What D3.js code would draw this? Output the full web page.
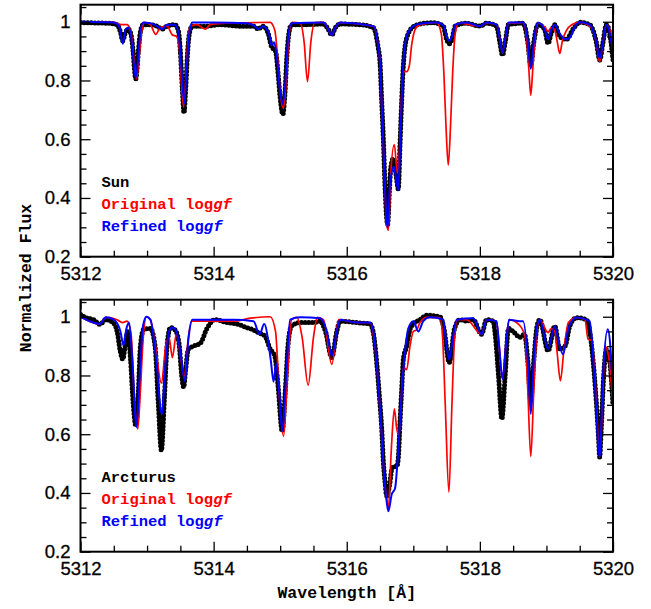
<!doctype html>
<html>
  <head>
    <style>
      body { margin: 0; background: white; }
      .tick text { font-family: 'Liberation Sans', Arial, sans-serif; font-size: 18.5px; fill: black; }
      .lab { font-family: 'Liberation Mono', monospace; font-weight: bold; }
    </style>
    <script src="https://d3js.org/d3.v7.min.js"></script>
  </head>
  <body>
    <svg id="chart" width="651" height="609"></svg>
    <script>
      // wavelength ticks and flux ticks
      var xMajor = [5312, 5314, 5316, 5318, 5320];
      var xMinor = [5312.5, 5313, 5313.5, 5314.5, 5315, 5315.5, 5316.5, 5317, 5317.5, 5318.5, 5319, 5319.5];
      var yMajor = [0.2, 0.4, 0.6, 0.8, 1];
      var yMinor = [0.25, 0.3, 0.35, 0.45, 0.5, 0.55, 0.65, 0.7, 0.75, 0.85, 0.9, 0.95, 1.05];

      // Sun: observed spectrum [wavelength, flux]
      var sunObs = [
        [5312.00,0.997],[5312.20,0.996],[5312.40,0.995],[5312.55,0.99],[5312.60,0.965],[5312.635,0.935],
        [5312.67,0.96],[5312.72,0.975],[5312.76,0.955],[5312.79,0.9],[5312.81,0.84],[5312.83,0.805],
        [5312.85,0.84],[5312.87,0.9],[5312.90,0.965],[5312.94,0.99],[5313.05,0.99],[5313.15,0.985],
        [5313.23,0.975],[5313.30,0.985],[5313.42,0.99],[5313.47,0.97],[5313.50,0.9],[5313.53,0.77],
        [5313.555,0.69],[5313.58,0.77],[5313.61,0.9],[5313.64,0.965],[5313.68,0.985],[5313.90,0.985],
        [5314.10,0.99],[5314.40,0.985],[5314.60,0.985],[5314.67,0.975],[5314.74,0.985],[5314.82,0.96],
        [5314.87,0.915],[5314.93,0.9],[5314.97,0.82],[5315.00,0.74],[5315.04,0.685],[5315.07,0.75],
        [5315.10,0.88],[5315.13,0.96],[5315.17,0.99],[5315.40,0.99],[5315.65,0.992],[5315.72,0.975],
        [5315.775,0.955],[5315.83,0.98],[5315.90,0.992],[5316.20,0.99],[5316.40,0.98],[5316.47,0.915],
        [5316.50,0.86],[5316.525,0.73],[5316.55,0.6],[5316.575,0.44],[5316.60,0.33],[5316.615,0.31],
        [5316.64,0.42],[5316.66,0.5],[5316.70,0.535],[5316.74,0.48],[5316.775,0.43],[5316.80,0.58],
        [5316.825,0.73],[5316.85,0.85],[5316.875,0.915],[5316.925,0.96],[5317.00,0.983],[5317.10,0.992],
        [5317.30,0.997],[5317.45,0.985],[5317.50,0.94],[5317.54,0.925],[5317.58,0.94],[5317.63,0.985],
        [5317.80,0.995],[5318.00,0.985],[5318.10,0.995],[5318.25,0.985],[5318.30,0.93],[5318.34,0.886],
        [5318.38,0.93],[5318.43,0.99],[5318.65,0.995],[5318.72,0.93],[5318.765,0.85],[5318.81,0.93],
        [5318.87,0.99],[5318.97,0.975],[5319.025,0.926],[5319.07,0.96],[5319.125,0.99],[5319.20,0.95],
        [5319.30,0.94],[5319.40,0.975],[5319.50,0.998],[5319.65,0.99],[5319.75,0.93],[5319.80,0.87],
        [5319.85,0.93],[5319.90,0.99],[5319.95,0.96],[5320.00,0.87]
      ];
      // Sun: synthesis with original log gf
      var sunOrig = [
        [5312.00,1.0],[5312.50,0.998],[5312.62,0.99],[5312.70,0.99],[5312.76,0.96],[5312.80,0.88],
        [5312.84,0.805],[5312.88,0.88],[5312.92,0.97],[5312.96,0.998],[5313.05,0.99],[5313.13,0.957],
        [5313.20,0.98],[5313.30,0.985],[5313.38,0.955],[5313.44,0.95],[5313.49,0.9],[5313.52,0.78],
        [5313.55,0.71],[5313.58,0.8],[5313.61,0.92],[5313.65,0.985],[5313.75,0.99],[5313.875,0.975],
        [5313.95,0.99],[5314.20,0.995],[5314.60,0.997],[5314.85,0.998],[5314.92,0.97],[5314.97,0.85],
        [5315.00,0.76],[5315.05,0.705],[5315.09,0.8],[5315.13,0.95],[5315.18,0.998],[5315.30,0.995],
        [5315.36,0.93],[5315.41,0.796],[5315.46,0.93],[5315.52,0.997],[5315.65,0.998],[5315.72,0.975],
        [5315.775,0.955],[5315.83,0.98],[5315.90,0.997],[5316.40,0.985],[5316.47,0.92],[5316.50,0.86],
        [5316.525,0.72],[5316.55,0.58],[5316.575,0.42],[5316.60,0.31],[5316.625,0.29],[5316.66,0.48],
        [5316.715,0.582],[5316.76,0.484],[5316.80,0.6],[5316.825,0.75],[5316.85,0.83],[5316.90,0.83],
        [5316.94,0.85],[5316.975,0.92],[5317.03,0.975],[5317.10,0.99],[5317.35,0.997],[5317.42,0.96],
        [5317.46,0.82],[5317.49,0.65],[5317.525,0.512],[5317.56,0.65],[5317.59,0.82],[5317.63,0.96],
        [5317.68,0.995],[5318.00,0.985],[5318.10,0.995],[5318.25,0.99],[5318.30,0.94],[5318.34,0.894],
        [5318.38,0.94],[5318.43,0.995],[5318.65,0.997],[5318.70,0.95],[5318.735,0.84],[5318.765,0.75],
        [5318.795,0.84],[5318.83,0.95],[5318.88,0.995],[5318.98,0.98],[5319.025,0.966],[5319.07,0.98],
        [5319.12,0.975],[5319.16,0.935],[5319.20,0.892],[5319.24,0.935],[5319.30,0.97],[5319.38,0.99],
        [5319.50,0.998],[5319.65,0.985],[5319.75,0.93],[5319.80,0.864],[5319.85,0.93],[5319.90,0.99],
        [5320.00,0.94]
      ];
      // Sun: synthesis with refined log gf
      var sunRef = [
        [5312.00,1.0],[5312.50,0.997],[5312.58,0.985],[5312.635,0.925],[5312.68,0.975],[5312.72,0.98],
        [5312.76,0.95],[5312.80,0.86],[5312.83,0.81],[5312.86,0.86],[5312.90,0.965],[5312.94,0.997],
        [5313.05,0.995],[5313.15,0.985],[5313.23,0.975],[5313.30,0.99],[5313.42,0.99],[5313.47,0.965],
        [5313.51,0.86],[5313.56,0.72],[5313.60,0.86],[5313.64,0.97],[5313.68,0.997],[5314.00,0.997],
        [5314.50,0.995],[5314.62,0.985],[5314.67,0.975],[5314.74,0.985],[5314.83,0.96],[5314.87,0.92],
        [5314.91,0.93],[5314.95,0.88],[5315.00,0.76],[5315.04,0.72],[5315.08,0.8],[5315.12,0.95],
        [5315.17,0.995],[5315.65,0.997],[5315.72,0.975],[5315.775,0.955],[5315.83,0.98],[5315.90,0.997],
        [5316.40,0.985],[5316.47,0.92],[5316.50,0.86],[5316.525,0.72],[5316.55,0.58],[5316.575,0.43],
        [5316.60,0.32],[5316.615,0.30],[5316.65,0.45],[5316.71,0.506],[5316.745,0.46],[5316.775,0.427],
        [5316.80,0.57],[5316.825,0.73],[5316.85,0.86],[5316.875,0.92],[5316.925,0.965],[5317.00,0.985],
        [5317.10,0.993],[5317.35,0.997],[5317.46,0.985],[5317.50,0.95],[5317.54,0.935],[5317.58,0.95],
        [5317.63,0.99],[5317.80,0.997],[5318.00,0.985],[5318.10,0.997],[5318.25,0.99],[5318.30,0.94],
        [5318.34,0.894],[5318.38,0.94],[5318.43,0.997],[5318.65,0.997],[5318.71,0.95],[5318.765,0.84],
        [5318.82,0.95],[5318.87,0.997],[5318.97,0.975],[5319.025,0.94],[5319.07,0.97],[5319.125,0.99],
        [5319.20,0.96],[5319.28,0.94],[5319.35,0.945],[5319.42,0.98],[5319.50,0.998],[5319.65,0.99],
        [5319.75,0.93],[5319.80,0.875],[5319.85,0.93],[5319.90,0.99],[5320.00,0.9]
      ];

      // Arcturus: observed spectrum
      var arcObs = [
        [5312.00,1.008],[5312.10,0.995],[5312.20,0.99],[5312.29,0.974],[5312.38,0.99],[5312.49,0.98],
        [5312.55,0.95],[5312.60,0.88],[5312.635,0.855],[5312.67,0.9],[5312.71,0.95],[5312.75,0.86],
        [5312.79,0.71],[5312.83,0.63],[5312.87,0.75],[5312.90,0.9],[5312.95,0.957],[5313.05,0.96],
        [5313.12,0.9],[5313.17,0.7],[5313.215,0.545],[5313.26,0.72],[5313.30,0.9],[5313.35,0.963],
        [5313.42,0.955],[5313.48,0.91],[5313.52,0.8],[5313.55,0.76],[5313.58,0.82],[5313.62,0.89],
        [5313.70,0.9],[5313.80,0.91],[5313.90,0.96],[5314.02,0.99],[5314.20,0.98],[5314.35,0.975],
        [5314.50,0.963],[5314.60,0.955],[5314.67,0.946],[5314.77,0.935],[5314.85,0.89],[5314.92,0.865],
        [5314.97,0.76],[5315.03,0.61],[5315.08,0.76],[5315.12,0.91],[5315.17,0.968],[5315.30,0.98],
        [5315.50,0.98],[5315.60,0.985],[5315.68,0.95],[5315.775,0.861],[5315.85,0.95],[5315.90,0.985],
        [5316.15,0.98],[5316.35,0.975],[5316.40,0.945],[5316.45,0.844],[5316.49,0.73],[5316.525,0.62],
        [5316.55,0.506],[5316.575,0.437],[5316.60,0.39],[5316.65,0.437],[5316.675,0.48],[5316.70,0.49],
        [5316.75,0.49],[5316.775,0.52],[5316.80,0.64],[5316.825,0.75],[5316.85,0.855],[5316.90,0.9],
        [5316.95,0.957],[5317.00,0.975],[5317.10,0.99],[5317.20,1.005],[5317.40,1.0],[5317.46,0.96],
        [5317.54,0.844],[5317.62,0.96],[5317.70,0.99],[5317.80,0.985],[5317.90,0.99],[5318.025,0.94],
        [5318.10,0.99],[5318.20,0.985],[5318.225,0.95],[5318.28,0.8],[5318.33,0.652],[5318.38,0.8],
        [5318.43,0.96],[5318.50,0.95],[5318.60,0.93],[5318.67,0.94],[5318.72,0.85],[5318.765,0.71],
        [5318.81,0.85],[5318.86,0.97],[5318.90,0.99],[5319.025,0.884],[5319.125,0.968],[5319.20,0.89],
        [5319.28,0.9],[5319.35,0.968],[5319.45,0.997],[5319.60,0.99],[5319.65,0.95],[5319.72,0.8],
        [5319.78,0.6],[5319.80,0.522],[5319.82,0.6],[5319.86,0.8],[5319.90,0.889],[5319.95,0.85],
        [5320.00,0.697]
      ];
      // Arcturus: synthesis with original log gf
      var arcOrig = [
        [5312.00,1.0],[5312.29,0.975],[5312.38,0.998],[5312.55,0.99],[5312.63,0.98],[5312.70,0.985],
        [5312.76,0.94],[5312.81,0.72],[5312.86,0.618],[5312.90,0.75],[5312.94,0.92],[5312.99,1.0],
        [5313.05,0.99],[5313.12,0.91],[5313.215,0.774],[5313.28,0.9],[5313.33,0.93],[5313.38,0.861],
        [5313.44,0.94],[5313.50,0.87],[5313.56,0.793],[5313.62,0.93],[5313.67,0.985],[5314.00,0.985],
        [5314.30,0.985],[5314.55,0.995],[5314.85,1.0],[5314.93,0.95],[5314.99,0.72],[5315.05,0.593],
        [5315.11,0.8],[5315.17,0.99],[5315.25,0.998],[5315.33,0.93],[5315.42,0.767],[5315.50,0.93],
        [5315.56,0.998],[5315.65,0.99],[5315.775,0.838],[5315.88,0.99],[5316.15,0.98],[5316.35,0.98],
        [5316.40,0.94],[5316.45,0.84],[5316.49,0.72],[5316.525,0.6],[5316.55,0.5],[5316.60,0.38],
        [5316.625,0.347],[5316.67,0.55],[5316.715,0.686],[5316.75,0.62],[5316.785,0.595],[5316.82,0.73],
        [5316.85,0.827],[5316.90,0.82],[5316.95,0.9],[5317.00,0.95],[5317.05,0.955],[5317.10,0.98],
        [5317.20,0.998],[5317.40,0.997],[5317.44,0.93],[5317.48,0.7],[5317.535,0.403],[5317.58,0.7],
        [5317.62,0.93],[5317.66,0.99],[5317.80,0.99],[5318.025,0.94],[5318.10,0.99],[5318.25,0.985],
        [5318.29,0.9],[5318.34,0.788],[5318.39,0.9],[5318.44,0.99],[5318.60,0.97],[5318.68,0.93],
        [5318.72,0.75],[5318.765,0.524],[5318.81,0.75],[5318.86,0.96],[5318.90,0.99],[5319.025,0.946],
        [5319.07,0.96],[5319.125,0.95],[5319.16,0.88],[5319.21,0.782],[5319.26,0.88],[5319.33,0.98],
        [5319.45,0.997],[5319.58,0.99],[5319.625,0.923],[5319.68,0.92],[5319.74,0.75],[5319.80,0.522],
        [5319.84,0.7],[5319.88,0.9],[5319.93,0.87],[5320.00,0.7]
      ];
      // Arcturus: synthesis with refined log gf
      var arcRef = [
        [5312.00,1.0],[5312.29,0.975],[5312.38,0.998],[5312.50,0.99],[5312.60,0.95],[5312.645,0.903],
        [5312.69,0.96],[5312.73,0.98],[5312.78,0.85],[5312.84,0.624],[5312.89,0.8],[5312.94,0.97],
        [5312.99,1.0],[5313.05,0.99],[5313.14,0.85],[5313.22,0.669],[5313.28,0.85],[5313.33,0.95],
        [5313.38,0.963],[5313.44,0.95],[5313.50,0.88],[5313.57,0.78],[5313.62,0.92],[5313.68,0.99],
        [5314.00,0.99],[5314.30,0.99],[5314.60,0.985],[5314.69,0.94],[5314.76,0.975],[5314.86,0.85],
        [5314.90,0.779],[5314.94,0.84],[5314.98,0.76],[5315.03,0.612],[5315.09,0.8],[5315.15,0.99],
        [5315.30,0.998],[5315.60,0.995],[5315.70,0.95],[5315.775,0.867],[5315.85,0.95],[5315.90,0.99],
        [5316.15,0.98],[5316.35,0.98],[5316.40,0.95],[5316.45,0.84],[5316.49,0.72],[5316.525,0.6],
        [5316.55,0.5],[5316.60,0.37],[5316.625,0.338],[5316.675,0.395],[5316.725,0.415],[5316.775,0.55],
        [5316.825,0.74],[5316.875,0.88],[5316.925,0.96],[5317.00,0.985],[5317.075,0.95],[5317.15,0.985],
        [5317.25,0.998],[5317.45,0.99],[5317.49,0.92],[5317.54,0.855],[5317.59,0.92],[5317.65,0.99],
        [5317.90,0.995],[5318.025,0.94],[5318.10,0.99],[5318.25,0.985],[5318.29,0.9],[5318.34,0.788],
        [5318.39,0.9],[5318.44,0.99],[5318.60,0.985],[5318.65,0.985],[5318.72,0.85],[5318.765,0.669],
        [5318.81,0.85],[5318.86,0.97],[5318.90,0.99],[5319.025,0.89],[5319.125,0.968],[5319.18,0.92],
        [5319.25,0.872],[5319.33,0.96],[5319.45,0.997],[5319.65,0.985],[5319.72,0.8],[5319.80,0.522],
        [5319.85,0.8],[5319.92,0.957],[5319.96,0.9],[5320.00,0.73]
      ];

      var panels = [
        {name: "Sun", obs: sunObs, orig: sunOrig, ref: sunRef, top: 4.7},
        {name: "Arcturus", obs: arcObs, orig: arcOrig, ref: arcRef, top: 299.7}
      ];

      var svg = d3.select("#chart");
      var left = 80.5, right = 613, ph = 252;

      var x = d3.scaleLinear().domain([5312, 5320]).range([left, right]);

      panels.forEach(function(p, i) {
        var y = d3.scaleLinear().domain([0.2, 1.058]).range([p.top + ph, p.top]);
        var g = svg.append("g");

        g.append("clipPath").attr("id", "clip" + i)
          .append("rect").attr("x", left).attr("y", p.top).attr("width", right - left).attr("height", ph);

        var line = d3.line()
          .x(function(d){ return x(d[0]); })
          .y(function(d){ return y(d[1]); })
          .curve(d3.curveMonotoneX);

        var plot = g.append("g").attr("clip-path", "url(#clip" + i + ")");
        // observed spectrum: dense black dots
        plot.append("path").attr("d", line(p.obs))
          .attr("fill", "none").attr("stroke", "black")
          .attr("stroke-width", 5).attr("stroke-linecap", "round")
          .attr("stroke-dasharray", "0 3.6");
        plot.append("path").attr("d", line(p.orig))
          .attr("fill", "none").attr("stroke", "#ff0000").attr("stroke-width", 1.7);
        plot.append("path").attr("d", line(p.ref))
          .attr("fill", "none").attr("stroke", "#0000ff").attr("stroke-width", 2);

        // axes, ticks pointing inward
        var bottom = p.top + ph;
        g.append("g").attr("transform", "translate(0," + bottom + ")")
          .call(d3.axisBottom(x).tickValues(xMajor).tickSize(-10).tickPadding(10).tickFormat(d3.format("d")));
        g.append("g").attr("transform", "translate(0," + bottom + ")")
          .call(d3.axisBottom(x).tickValues(xMinor).tickSize(-6).tickFormat(""));
        g.append("g").attr("transform", "translate(0," + p.top + ")")
          .call(d3.axisTop(x).tickValues(xMajor).tickSize(-10).tickFormat(""));
        g.append("g").attr("transform", "translate(0," + p.top + ")")
          .call(d3.axisTop(x).tickValues(xMinor).tickSize(-6).tickFormat(""));
        g.append("g").attr("transform", "translate(" + left + ",0)")
          .call(d3.axisLeft(y).tickValues(yMajor).tickSize(-10).tickPadding(10).tickFormat(d3.format("")));
        g.append("g").attr("transform", "translate(" + left + ",0)")
          .call(d3.axisLeft(y).tickValues(yMinor).tickSize(-6).tickFormat(""));
        g.append("g").attr("transform", "translate(" + right + ",0)")
          .call(d3.axisRight(y).tickValues(yMajor).tickSize(-10).tickFormat(""));
        g.append("g").attr("transform", "translate(" + right + ",0)")
          .call(d3.axisRight(y).tickValues(yMinor).tickSize(-6).tickFormat(""));
        g.selectAll(".domain").remove();
        g.selectAll(".tick line").attr("stroke", "black").attr("stroke-width", 1.3);
        g.selectAll(".tick text").attr("stroke", "black").attr("stroke-width", 0.3);

        g.append("rect").attr("x", left).attr("y", p.top).attr("width", right - left).attr("height", ph)
          .attr("fill", "none").attr("stroke", "black").attr("stroke-width", 2);

        // legend
        var lg = g.append("text").attr("class", "lab").attr("x", 101.5).attr("font-size", 15.5);
        lg.append("tspan").attr("y", p.top + 182).attr("fill", "black").text(p.name);
        var t1 = g.append("text").attr("class", "lab").attr("x", 101.5).attr("y", p.top + 204)
          .attr("font-size", 15.5).attr("fill", "#ff0000");
        t1.append("tspan").text("Original log");
        t1.append("tspan").attr("font-style", "italic").text("gf");
        var t2 = g.append("text").attr("class", "lab").attr("x", 101.5).attr("y", p.top + 226)
          .attr("font-size", 15.5).attr("fill", "#0000ff");
        t2.append("tspan").text("Refined log");
        t2.append("tspan").attr("font-style", "italic").text("gf");
      });

      svg.append("text").attr("class", "lab")
        .attr("transform", "translate(31,278) rotate(-90)")
        .attr("text-anchor", "middle").attr("font-size", 16.5)
        .text("Normalized Flux");
      svg.append("text").attr("class", "lab")
        .attr("x", (left + right) / 2).attr("y", 598)
        .attr("text-anchor", "middle").attr("font-size", 16.5)
        .text("Wavelength [Å]");
    </script>
  </body>
</html>
